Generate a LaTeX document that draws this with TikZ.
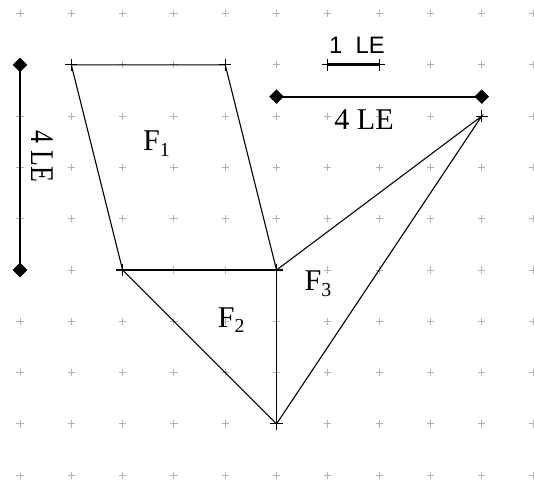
\documentclass[tikz,border=0pt]{standalone}
\usepackage{fontspec}
\setmainfont{Liberation Serif}
\newfontfamily\labelsans{Liberation Sans}
\usetikzlibrary{shapes.geometric}
\tikzset{
  gcross/.style={draw=black!30, line width=0.5pt},
  vcross/.style={draw=black, line width=0.6pt},
  edge/.style={draw=black, line width=0.6pt, line join=miter},
  sharededge/.style={draw=black, line width=1.0pt},
  scalebar/.style={draw=black, line width=1.5pt},
  endmark/.style={diamond, fill=black, draw=none, inner sep=0pt, minimum width=0.29cm, minimum height=0.29cm},
  serif/.style={inner sep=0pt, font=\fontsize{16.7}{18}\selectfont},
  sanslabel/.style={inner sep=0pt, font=\labelsans\fontsize{13.2}{15}\selectfont},
}
\newcommand{\subidx}[1]{{\fontsize{11}{11}\selectfont\raisebox{-3pt}{#1}}}
\begin{document}
\begin{tikzpicture}
\useasboundingbox (-0.390,0.263) rectangle (10.019,-9.094);
% grid of crosses
\foreach \i in {0,...,10}{
  \foreach \j in {0,...,9}{
    \draw[gcross] (\i,-\j) +(-0.07,0) -- +(0.07,0) +(0,-0.07) -- +(0,0.07);
  }
}
% vertices
\coordinate (P1) at (1,-1);
\coordinate (P2) at (4,-1);
\coordinate (P3) at (5,-5);
\coordinate (P4) at (2,-5);
\coordinate (P5) at (5,-8);
\coordinate (P6) at (9,-2);
% figures
\draw[edge] (P4) -- (P1) -- (P2) -- (P3);
\draw[edge] (P4) -- (P5);
\draw[edge] (P3) -- (P6) -- (P5);
\draw[sharededge] (P4) -- (P3);
\draw[sharededge] (P3) -- (P5);
% vertex crosses
\foreach \p in {P1,P2,P3,P4,P5,P6}{
  \draw[vcross] (\p) +(-0.12,0) -- +(0.12,0) +(0,-0.12) -- +(0,0.12);
}
% face labels
\node[serif, anchor=base west] (F1) at (2.392,-2.674) {F\subidx{1}};
\node[serif, anchor=base west] (F2) at (3.848,-6.111) {F\subidx{2}};
\node[serif, anchor=base west] (F3) at (5.542,-5.404) {F\subidx{3}};
% vertical scale bar
\node[endmark] (V1) at (0,-1) {};
\node[endmark] (V2) at (0,-5) {};
\draw[scalebar] (V1.center) -- (V2.center);
\node[serif, rotate=-90] (VL) at (0.429,-2.788) {\scalebox{0.86}[1.1]{4 LE}};
% horizontal scale bar
\node[endmark] (H1) at (5,-1.62) {};
\node[endmark] (H2) at (9,-1.62) {};
\draw[scalebar, line width=1.2pt] (H1.center) -- (H2.center);
\node[serif, anchor=base] (HL) at (6.706,-2.257) {4 LE};
% unit bar
\coordinate (S1) at (6,-1);
\coordinate (S2) at (7,-1);
\draw[scalebar] (S1) -- (S2);
\foreach \p in {S1,S2}{
  \draw[vcross] (\p) +(-0.12,0) -- +(0.12,0) +(0,-0.12) -- +(0,0.12);
}
\node[sanslabel, anchor=base] (UL) at (6.569,-0.776) {1\ \ LE};
\end{tikzpicture}
\end{document}
